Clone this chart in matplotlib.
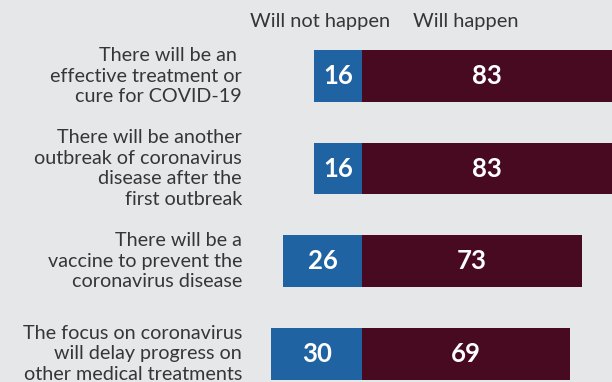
import numpy as np
import matplotlib.pyplot as plt

# survey responses, percent
statements = [
    "There will be an \neffective treatment or\ncure for COVID-19",
    "There will be another\noutbreak of coronavirus\ndisease after the\nfirst outbreak",
    "There will be a\nvaccine to prevent the\ncoronavirus disease",
    "The focus on coronavirus\nwill delay progress on\nother medical treatments",
]
will_not = [16, 16, 26, 30]
will = [83, 83, 73, 69]
headers = ["Will not happen", "Will happen"]

BG = "#e6e7e9"
BLUE = "#1f63a2"
MAROON = "#470a21"
TXT = "#363636"

W, H = 612, 382
fig = plt.figure(figsize=(W / 100, H / 100), dpi=100, facecolor=BG)
ax = fig.add_axes([0, 0, 1, 1])
ax.set_facecolor(BG)

# px per percentage point, zero line at x=362
s = 3.02
x0 = 362
ax.set_xlim(-x0 / s, (W - x0) / s)
# rows 92.6 px apart, first row centred at y=76
row = 92.6
y0 = 76
ax.set_ylim((H - y0) / row, -y0 / row)

y = np.arange(len(statements))
bh = 51.7 / row
ax.barh(y, [-v for v in will_not], height=bh, color=BLUE, linewidth=0)
ax.barh(y, will, height=bh, color=MAROON, linewidth=0)

for i in range(len(y)):
    ax.text(-will_not[i] / 2, y[i], str(will_not[i]), ha="center", va="center",
            color="white", fontsize=18.5, fontweight="bold", family="Lato")
    ax.text(will[i] / 2, y[i], str(will[i]), ha="center", va="center",
            color="white", fontsize=18.5, fontweight="bold", family="Lato")
    fig.text(242 / W, 1 - (y0 + row * y[i]) / H, statements[i], ha="right",
             va="center", multialignment="right", color=TXT, fontsize=14.2,
             family="Lato", linespacing=1.26)

fig.text(320 / W, 1 - 27.3 / H, headers[0], ha="center", va="baseline",
         color=TXT, fontsize=14.4, family="Lato")
fig.text(466 / W, 1 - 27.3 / H, headers[1], ha="center", va="baseline",
         color=TXT, fontsize=14.4, family="Lato")

ax.axis("off")
fig.savefig("out.png", dpi=100, facecolor=BG)
